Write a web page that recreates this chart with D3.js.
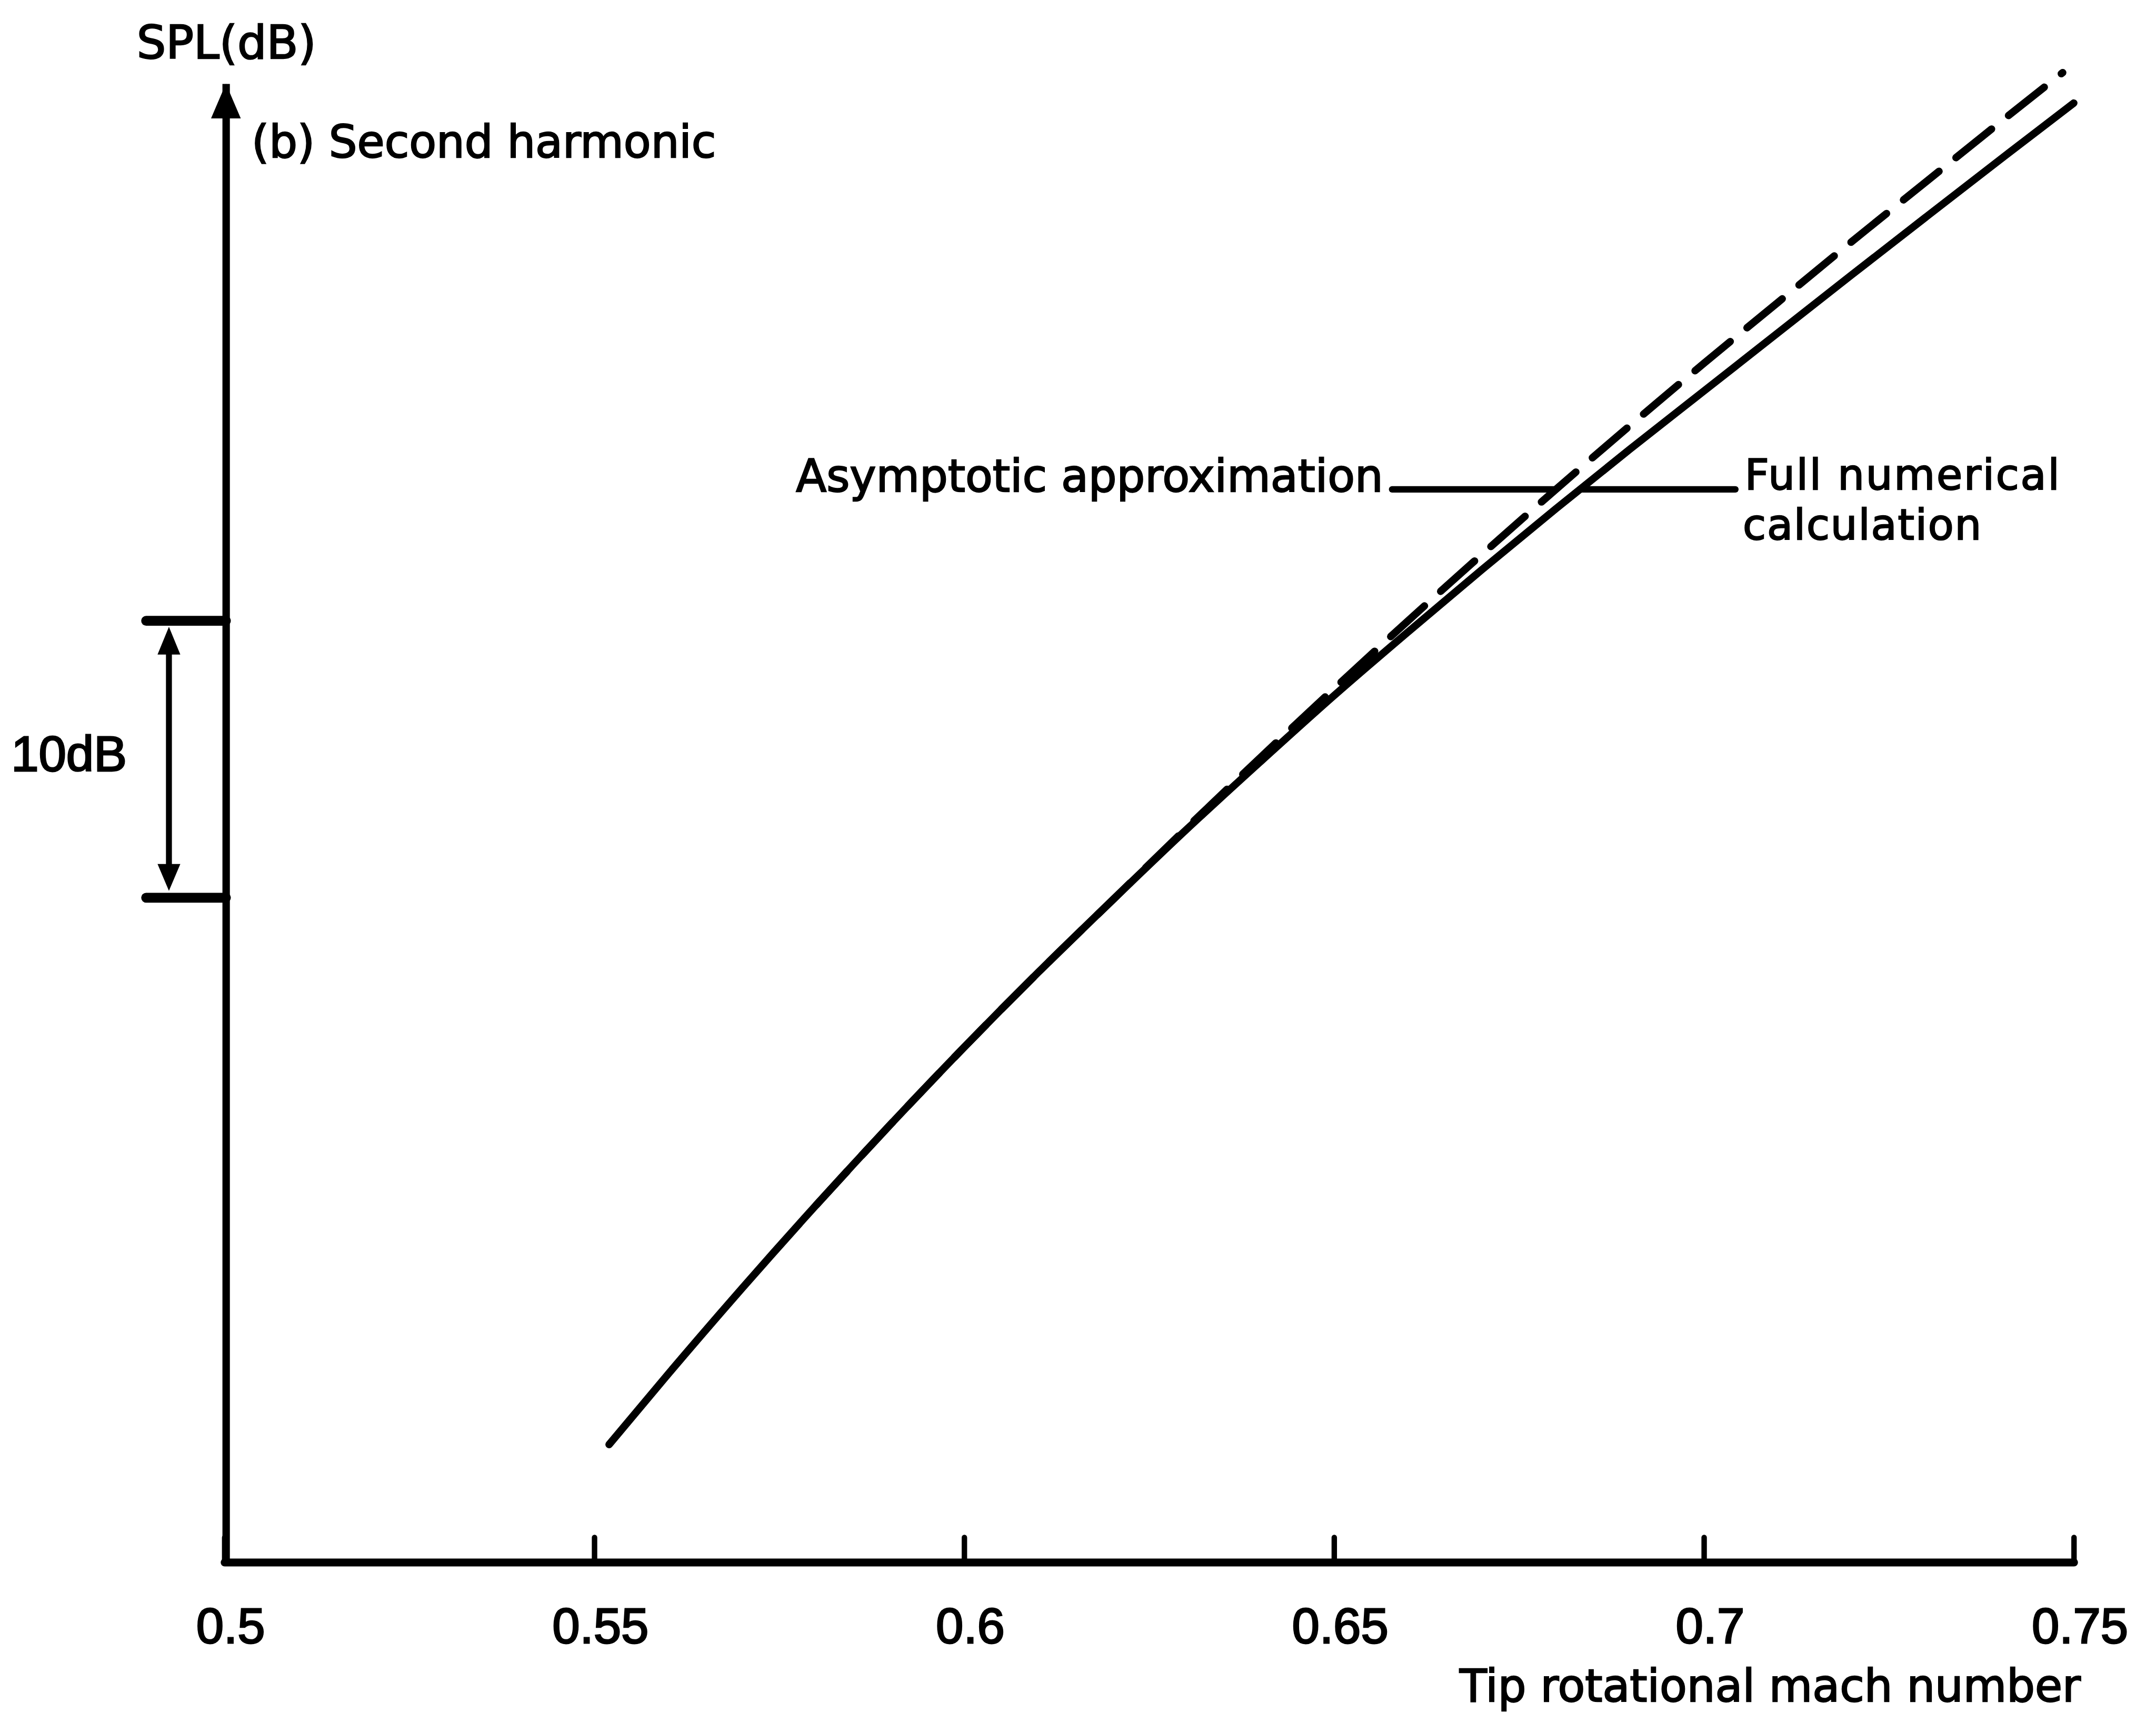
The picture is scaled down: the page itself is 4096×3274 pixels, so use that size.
<!DOCTYPE html>
<html>
<head>
<meta charset="utf-8">
<style>
  html, body { margin: 0; padding: 0; background: #fff; }
  svg { display: block; }
</style>
<script src="https://cdn.jsdelivr.net/npm/d3@7"></script>
</head>
<body>
<script>
// Second-harmonic SPL against tip rotational Mach number.
// SPL is relative (dB); only a 10 dB scale bar is given on the ordinate.

// x-axis ticks
const machTicks  = [0.5, 0.55, 0.6, 0.65, 0.7, 0.75];
const tickLabels = ["0.5", "0.55", "0.6", "0.65", "0.7", "0.75"];

// Full numerical calculation (solid)
const fullMach = [0.552, 0.56, 0.57, 0.58, 0.59, 0.60, 0.61, 0.62, 0.63, 0.64, 0.65,
                  0.66, 0.67, 0.68, 0.69, 0.70, 0.71, 0.72, 0.73, 0.74, 0.75];
const fullSPL  = [4.25, 6.8, 9.9, 12.9, 15.8, 18.6, 21.3, 23.9, 26.45, 28.9, 31.3,
                  33.6, 35.85, 38.05, 40.2, 42.3, 44.4, 46.5, 48.58, 50.65, 52.7];

// Asymptotic approximation (dashed)
const asymMach = [0.58, 0.59, 0.60, 0.61, 0.62, 0.63, 0.64, 0.65, 0.66, 0.67, 0.68,
                  0.69, 0.70, 0.71, 0.72, 0.73, 0.74, 0.7485];
const asymSPL  = [12.9, 15.8, 18.6, 21.3, 23.9, 26.5, 29.05, 31.55, 34.0, 36.4, 38.75,
                  41.05, 43.3, 45.5, 47.7, 49.85, 52.0, 53.8];

// 10 dB scale bar and label leader level (dB)
const scaleBar = [24, 34];
const leaderSPL = 38.75;

const W = 4096, H = 3274;
const K = 4096 / 4352;   // drawing is laid out on a 4352-wide grid

const svg = d3.select("body").append("svg")
  .attr("width", W).attr("height", H)
  .attr("viewBox", `0 0 ${W} ${H}`);
svg.append("rect").attr("width", W).attr("height", H).attr("fill", "#fff");
const g = svg.append("g").attr("transform", `scale(${K})`);

const x = d3.scaleLinear().domain([0.5, 0.75]).range([453, 4186]);
const y = d3.scaleLinear().domain([0, 53.4]).range([3154, 169]);

const textFont = "'DejaVu Sans', Verdana, sans-serif";
const numFont  = "'Liberation Sans', Arial, Helvetica, sans-serif";

// ---- x axis (ticks point upward, labels below) ----
const xAxis = g.append("g")
  .attr("transform", `translate(0,${y(0)})`)
  .call(d3.axisBottom(x)
    .tickValues(machTicks)
    .tickFormat((d, i) => tickLabels[i])
    .tickSizeInner(-50)
    .tickSizeOuter(0)
    .tickPadding(92));
xAxis.attr("font-family", numFont).attr("font-size", 100);
xAxis.select(".domain").attr("stroke", "#000").attr("stroke-width", 16)
  .attr("stroke-linecap", "round");
xAxis.selectAll(".tick line").attr("stroke", "#000").attr("stroke-width", 11)
  .attr("stroke-linecap", "round");
xAxis.selectAll(".tick text").attr("fill", "#000").attr("dx", 12)
  .attr("stroke", "#000").attr("stroke-width", 3);

// ---- y axis with arrowhead ----
const x0 = x(0.5);
const yAxis = g.append("g")
  .attr("transform", `translate(${x0 + 3},0)`)
  .call(d3.axisLeft(y).tickValues([]).tickSizeOuter(0));
yAxis.select(".domain").attr("stroke", "#000").attr("stroke-width", 15);
const yTop = y.range()[1];
g.append("path")
  .attr("d", `M${x0 + 3},${yTop} L${x0 + 33},${yTop + 70} L${x0 - 27},${yTop + 70} Z`)
  .attr("fill", "#000");

// ---- 10 dB scale bar ----
const bar = g.append("g").attr("stroke", "#000").attr("fill", "none");
scaleBar.forEach(v => {
  bar.append("line")
    .attr("x1", x0 - 158).attr("x2", x0 + 3)
    .attr("y1", y(v)).attr("y2", y(v))
    .attr("stroke-width", 20).attr("stroke-linecap", "round");
});
const ax = x0 - 112;
const yHi = y(scaleBar[1]), yLo = y(scaleBar[0]);
bar.append("line")
  .attr("x1", ax).attr("x2", ax)
  .attr("y1", yHi + 40).attr("y2", yLo - 40)
  .attr("stroke-width", 12);
g.append("path")
  .attr("d", `M${ax},${yHi + 12} L${ax + 23},${yHi + 68} L${ax - 23},${yHi + 68} Z`
           + ` M${ax},${yLo - 14} L${ax + 23},${yLo - 68} L${ax - 23},${yLo - 68} Z`)
  .attr("fill", "#000");
g.append("text")
  .attr("x", x0 - 197).attr("y", (yHi + yLo) / 2 + 24)
  .attr("text-anchor", "end")
  .attr("font-family", numFont).attr("font-size", 100)
  .attr("fill", "#000").attr("stroke", "#000").attr("stroke-width", 3)
  .text("10dB");

// ---- curves ----
const line = d3.line()
  .x(d => x(d[0]))
  .y(d => y(d[1]))
  .curve(d3.curveMonotoneX);

const fullData = fullMach.map((m, i) => [m, fullSPL[i]]);
const asymData = asymMach.map((m, i) => [m, asymSPL[i]]);

g.append("path")
  .datum(fullData)
  .attr("d", line)
  .attr("fill", "none").attr("stroke", "#000")
  .attr("stroke-width", 15).attr("stroke-linecap", "round").attr("stroke-linejoin", "round");

g.append("path")
  .datum(asymData)
  .attr("d", line)
  .attr("fill", "none").attr("stroke", "#000")
  .attr("stroke-width", 15).attr("stroke-linecap", "round")
  .attr("stroke-dasharray", "92 44");

// ---- labels with leader lines ----
const machAt = (machs, spls) => d3.scaleLinear().domain(spls).range(machs);
const xAsym = x(machAt(asymMach, asymSPL)(leaderSPL));
const xFull = x(machAt(fullMach, fullSPL)(leaderSPL));
const yLead = y(leaderSPL);

const lead = g.append("g").attr("stroke", "#000").attr("stroke-width", 13)
  .attr("stroke-linecap", "round");
lead.append("line").attr("x1", 2810).attr("x2", xAsym).attr("y1", yLead).attr("y2", yLead);
lead.append("line").attr("x1", xFull).attr("x2", 3503).attr("y1", yLead).attr("y2", yLead);

const ann = g.append("g")
  .attr("font-family", textFont).attr("fill", "#000")
  .attr("stroke", "#000").attr("stroke-width", 2.5);
ann.append("text").attr("x", 2792).attr("y", yLead + 4).attr("text-anchor", "end")
  .attr("font-size", 90).text("Asymptotic approximation");
ann.append("text").attr("x", 3522).attr("y", yLead)
  .attr("font-size", 85).attr("letter-spacing", 3)
  .text("Full numerical");
ann.append("text").attr("x", 3518).attr("y", yLead + 101)
  .attr("font-size", 85).attr("letter-spacing", 2)
  .text("calculation");

// ---- titles ----
const titles = g.append("g")
  .attr("font-family", textFont).attr("fill", "#000")
  .attr("stroke", "#000").attr("stroke-width", 2.5);
titles.append("text")
  .attr("x", 276).attr("y", 118).attr("font-size", 93)
  .text("SPL(dB)");
titles.append("text")
  .attr("x", 508).attr("y", 318).attr("font-size", 90)
  .text("(b) Second harmonic");
titles.append("text")
  .attr("x", 4200).attr("y", 3435).attr("font-size", 90)
  .attr("text-anchor", "end")
  .text("Tip rotational mach number");
</script>
</body>
</html>
